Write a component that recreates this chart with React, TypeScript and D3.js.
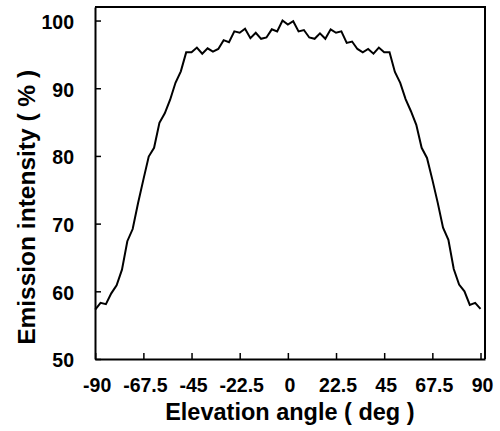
import React, { useRef, useEffect } from "react";
import * as d3 from "d3";

// Elevation angle (deg), one sample every 2.5 deg
const angles = [
  -90, -87.5, -85, -82.5, -80, -77.5, -75, -72.5, -70, -67.5, -65, -62.5,
  -60, -57.5, -55, -52.5, -50, -47.5, -45, -42.5, -40, -37.5, -35, -32.5,
  -30, -27.5, -25, -22.5, -20, -17.5, -15, -12.5, -10, -7.5, -5, -2.5,
  0, 2.5, 5, 7.5, 10, 12.5, 15, 17.5, 20, 22.5, 25, 27.5,
  30, 32.5, 35, 37.5, 40, 42.5, 45, 47.5, 50, 52.5, 55, 57.5,
  60, 62.5, 65, 67.5, 70, 72.5, 75, 77.5, 80, 82.5, 85, 87.5, 90,
];

// Emission intensity (%)
const intensity = [
  57.3, 58.3, 58.1, 59.7, 60.9, 63.2, 67.4, 69.2, 73.0, 76.5, 79.9, 81.2,
  84.9, 86.3, 88.3, 90.8, 92.5, 95.3, 95.3, 96.0, 95.1, 95.9, 95.4, 95.8,
  97.1, 96.8, 98.4, 98.2, 98.8, 97.4, 98.2, 97.3, 97.5, 98.7, 98.4, 100.0,
  99.4, 99.9, 98.4, 98.6, 97.5, 97.3, 98.1, 97.3, 98.7, 98.2, 98.4, 96.7,
  96.9, 95.8, 95.3, 95.8, 95.1, 96.0, 95.3, 95.3, 92.4, 90.8, 88.4, 86.6,
  84.6, 81.2, 79.7, 76.5, 73.1, 69.4, 67.6, 63.3, 61.0, 60.0, 58.0, 58.3,
  57.4,
];

const xTicks = [-90, -67.5, -45, -22.5, 0, 22.5, 45, 67.5, 90];
const yTicks = [50, 60, 70, 80, 90, 100];

const xTitle = "Elevation angle ( deg )";
const yTitle = "Emission intensity ( % )";

const App: React.FC = () => {
  const svgRef = useRef<SVGSVGElement>(null);

  useEffect(() => {
    if (!svgRef.current) return;
    const svg = d3.select(svgRef.current);
    svg.selectAll("*").remove();

    const width = 500;
    const height = 431;
    const margin = { top: 7, right: 15, bottom: 72, left: 95 };
    const innerWidth = width - margin.left - margin.right;
    const innerHeight = height - margin.top - margin.bottom;
    const font = "'Liberation Sans', Arial, sans-serif";

    svg.attr("width", width).attr("height", height);

    const g = svg
      .append("g")
      .attr("transform", `translate(${margin.left},${margin.top})`);

    const xScale = d3.scaleLinear().domain([-90.1, 92.1]).range([0, innerWidth]);
    const yScale = d3.scaleLinear().domain([50, 102]).range([innerHeight, 0]);

    const points = angles.map((a, i) => ({ a, v: intensity[i] }));

    // frame (top + right)
    g.append("path")
      .attr("d", `M0,0H${innerWidth}V${innerHeight}`)
      .attr("fill", "none")
      .attr("stroke", "#000")
      .attr("stroke-width", 2);

    // x axis, ticks pointing inward
    const xAxis = d3
      .axisBottom(xScale)
      .tickValues(xTicks)
      .tickSize(-6)
      .tickSizeOuter(0)
      .tickPadding(19)
      .tickFormat((d) => `${d}`);

    const gx = g
      .append("g")
      .attr("transform", `translate(0,${innerHeight})`)
      .call(xAxis);
    gx.select(".domain").attr("stroke-width", 2).attr("stroke", "#000");
    gx.selectAll(".tick line").attr("stroke-width", 1.5).attr("stroke", "#000");
    gx.selectAll(".tick text")
      .attr("font-family", font)
      .attr("font-size", 19.5)
      .attr("font-weight", "bold")
      .attr("fill", "#000")
      .attr("dx", 1.5);

    // y axis, ticks pointing inward
    const yAxis = d3
      .axisLeft(yScale)
      .tickValues(yTicks)
      .tickSize(-6)
      .tickSizeOuter(0)
      .tickPadding(21);

    const gy = g.append("g").call(yAxis);
    gy.select(".domain").attr("stroke-width", 2).attr("stroke", "#000");
    gy.selectAll(".tick line").attr("stroke-width", 1.5).attr("stroke", "#000");
    gy.selectAll(".tick text")
      .attr("font-family", font)
      .attr("font-size", 19.5)
      .attr("font-weight", "bold")
      .attr("fill", "#000")
      .attr("dy", "0.4em");

    // data line
    const line = d3
      .line<{ a: number; v: number }>()
      .x((d) => xScale(d.a))
      .y((d) => yScale(d.v));

    g.append("path")
      .datum(points)
      .attr("fill", "none")
      .attr("stroke", "#000")
      .attr("stroke-width", 2)
      .attr("stroke-linejoin", "miter")
      .attr("d", line);

    // axis titles
    svg
      .append("text")
      .attr("x", margin.left + xScale(0) + 2)
      .attr("y", 420)
      .attr("text-anchor", "middle")
      .attr("font-family", font)
      .attr("font-size", 23.5)
      .attr("font-weight", "bold")
      .attr("fill", "#000")
      .text(xTitle);

    svg
      .append("text")
      .attr("transform", `translate(35,${margin.top + yScale(72.4)}) rotate(-90)`)
      .attr("text-anchor", "middle")
      .attr("font-family", font)
      .attr("font-size", 24.5)
      .attr("font-weight", "bold")
      .attr("fill", "#000")
      .text(yTitle);
  }, []);

  return (
    <svg
      ref={svgRef}
      style={{ position: "absolute", left: 0, top: 0, background: "#fff" }}
    ></svg>
  );
};

export default App;
